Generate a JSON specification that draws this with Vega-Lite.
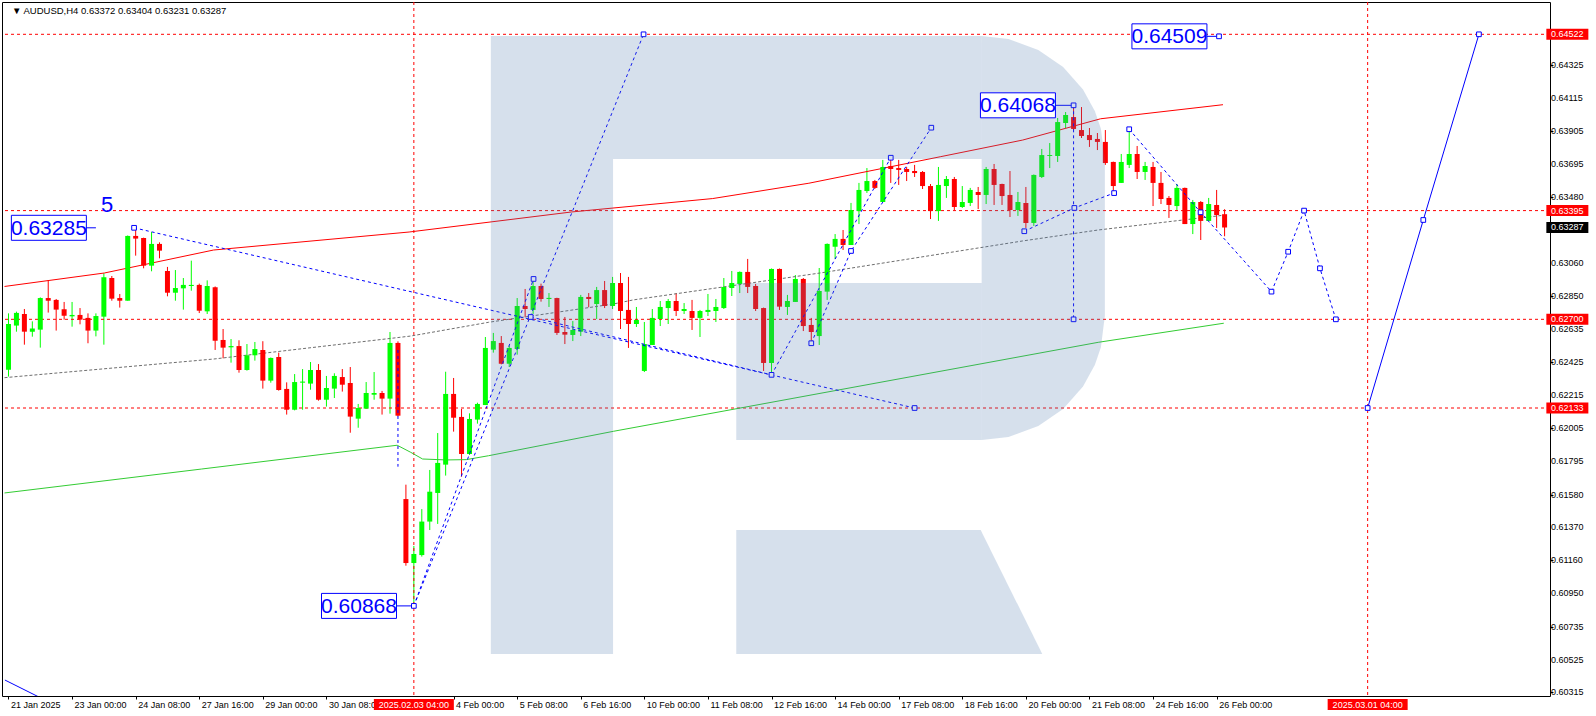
{
"$schema":"https://vega.github.io/schema/vega-lite/v6.json",
"width":1548,"height":694,"autosize":"none",
"padding":{"left":2,"top":2,"right":46,"bottom":20},
"background":"#ffffff",
"config":{"view":{"stroke":"#000000","strokeWidth":1},"axis":{"domain":false,"grid":false,"labelFont":"Liberation Sans","labelColor":"#000000","tickColor":"#000000"}},
"datasets":{
"candles":[
{"i":0,"o":0.62378,"h":0.62738,"l":0.62334,"c":0.6267},{"i":1,"o":0.6266,"h":0.62749,"l":0.62621,"c":0.62741},{"i":2,"o":0.62734,"h":0.62766,"l":0.62538,"c":0.62621},{"i":3,"o":0.62621,"h":0.62687,"l":0.62589,"c":0.62642},{"i":4,"o":0.62634,"h":0.6284,"l":0.62519,"c":0.62836},{"i":5,"o":0.62836,"h":0.62951,"l":0.62743,"c":0.62819},{"i":6,"o":0.62824,"h":0.6283,"l":0.62628,"c":0.62762},{"i":7,"o":0.62764,"h":0.62811,"l":0.62698,"c":0.62723},{"i":8,"o":0.62719,"h":0.62811,"l":0.62653,"c":0.62728},{"i":9,"o":0.62728,"h":0.62772,"l":0.62668,"c":0.62698},
{"i":10,"o":0.62709,"h":0.62738,"l":0.62547,"c":0.62628},{"i":11,"o":0.62628,"h":0.62738,"l":0.62591,"c":0.62721},{"i":12,"o":0.62717,"h":0.62994,"l":0.62538,"c":0.62969},{"i":13,"o":0.62964,"h":0.62977,"l":0.62819,"c":0.62832},{"i":14,"o":0.62836,"h":0.62862,"l":0.62775,"c":0.62819},{"i":15,"o":0.62819,"h":0.63236,"l":0.62819,"c":0.63233},{"i":16,"o":0.63233,"h":0.63288,"l":0.63107,"c":0.63216},{"i":17,"o":0.6322,"h":0.63222,"l":0.63026,"c":0.63043},{"i":18,"o":0.63043,"h":0.63258,"l":0.63007,"c":0.63182},{"i":19,"o":0.63182,"h":0.63192,"l":0.6309,"c":0.63139},
{"i":20,"o":0.63009,"h":0.63035,"l":0.62847,"c":0.6287},{"i":21,"o":0.6287,"h":0.63015,"l":0.62819,"c":0.629},{"i":22,"o":0.62898,"h":0.62964,"l":0.62762,"c":0.6292},{"i":23,"o":0.62913,"h":0.63075,"l":0.62883,"c":0.6292},{"i":24,"o":0.6292,"h":0.62928,"l":0.6274,"c":0.62755},{"i":25,"o":0.62751,"h":0.62949,"l":0.62734,"c":0.62913},{"i":26,"o":0.62905,"h":0.6291,"l":0.62504,"c":0.62563},{"i":27,"o":0.62568,"h":0.62638,"l":0.62451,"c":0.62519},{"i":28,"o":0.62521,"h":0.62574,"l":0.62423,"c":0.62529},{"i":29,"o":0.62529,"h":0.62566,"l":0.62359,"c":0.62376},
{"i":30,"o":0.62376,"h":0.62542,"l":0.62372,"c":0.6247},{"i":31,"o":0.6247,"h":0.62555,"l":0.62436,"c":0.6251},{"i":32,"o":0.62504,"h":0.6256,"l":0.62257,"c":0.62308},{"i":33,"o":0.62308,"h":0.62456,"l":0.62295,"c":0.62453},{"i":34,"o":0.62459,"h":0.62487,"l":0.62244,"c":0.62248},{"i":35,"o":0.62255,"h":0.62297,"l":0.62091,"c":0.62122},{"i":36,"o":0.62122,"h":0.6235,"l":0.62118,"c":0.62299},{"i":37,"o":0.62295,"h":0.62382,"l":0.62122,"c":0.62302},{"i":38,"o":0.62289,"h":0.62427,"l":0.6225,"c":0.62376},{"i":39,"o":0.62376,"h":0.62414,"l":0.6218,"c":0.62186},
{"i":40,"o":0.62186,"h":0.62338,"l":0.62142,"c":0.62261},{"i":41,"o":0.62257,"h":0.62355,"l":0.62197,"c":0.62338},{"i":42,"o":0.62331,"h":0.62382,"l":0.62238,"c":0.62282},{"i":43,"o":0.62293,"h":0.62395,"l":0.61975,"c":0.62078},{"i":44,"o":0.62065,"h":0.62159,"l":0.62007,"c":0.62133},{"i":45,"o":0.62129,"h":0.62299,"l":0.62129,"c":0.62229},{"i":46,"o":0.62218,"h":0.62363,"l":0.62186,"c":0.62229},{"i":47,"o":0.62229,"h":0.62242,"l":0.62091,"c":0.62193},{"i":48,"o":0.62193,"h":0.62619,"l":0.62097,"c":0.62549},{"i":49,"o":0.62549,"h":0.62559,"l":0.6208,"c":0.62084},
{"i":50,"o":0.61551,"h":0.61643,"l":0.61125,"c":0.61142},{"i":51,"o":0.61142,"h":0.61251,"l":0.60868,"c":0.612},{"i":52,"o":0.61193,"h":0.61487,"l":0.61183,"c":0.61407},{"i":53,"o":0.61407,"h":0.61737,"l":0.61353,"c":0.61598},{"i":54,"o":0.6159,"h":0.61973,"l":0.61392,"c":0.61782},{"i":55,"o":0.61771,"h":0.62365,"l":0.61701,"c":0.62223},{"i":56,"o":0.62223,"h":0.62325,"l":0.61982,"c":0.62071},{"i":57,"o":0.62076,"h":0.62127,"l":0.61694,"c":0.61839},{"i":58,"o":0.61839,"h":0.62099,"l":0.61833,"c":0.62063},{"i":59,"o":0.62059,"h":0.62167,"l":0.62033,"c":0.62159},
{"i":60,"o":0.62152,"h":0.62587,"l":0.62152,"c":0.62517},{"i":61,"o":0.62506,"h":0.62613,"l":0.62487,"c":0.62561},{"i":62,"o":0.62549,"h":0.62593,"l":0.62412,"c":0.62416},{"i":63,"o":0.62416,"h":0.62532,"l":0.62395,"c":0.62517},{"i":64,"o":0.6251,"h":0.62836,"l":0.62474,"c":0.62785},{"i":65,"o":0.62785,"h":0.62894,"l":0.62713,"c":0.62766},{"i":66,"o":0.6276,"h":0.62958,"l":0.62734,"c":0.62913},{"i":67,"o":0.62913,"h":0.62928,"l":0.62813,"c":0.6283},{"i":68,"o":0.6283,"h":0.62868,"l":0.62779,"c":0.62837},{"i":69,"o":0.62836,"h":0.62838,"l":0.626,"c":0.62613},
{"i":70,"o":0.62619,"h":0.62715,"l":0.62542,"c":0.62602},{"i":71,"o":0.626,"h":0.62689,"l":0.62561,"c":0.62632},{"i":72,"o":0.62621,"h":0.62856,"l":0.62593,"c":0.62843},{"i":73,"o":0.62843,"h":0.62868,"l":0.62777,"c":0.6283},{"i":74,"o":0.62798,"h":0.62907,"l":0.62702,"c":0.62887},{"i":75,"o":0.62887,"h":0.62945,"l":0.62772,"c":0.62785},{"i":76,"o":0.62785,"h":0.62971,"l":0.62766,"c":0.62932},{"i":77,"o":0.62932,"h":0.62996,"l":0.62638,"c":0.62753},{"i":78,"o":0.6276,"h":0.62971,"l":0.62517,"c":0.6267},{"i":79,"o":0.6267,"h":0.62779,"l":0.62651,"c":0.62696},
{"i":80,"o":0.6237,"h":0.62683,"l":0.62363,"c":0.62542},{"i":81,"o":0.62536,"h":0.62766,"l":0.62536,"c":0.62709},{"i":82,"o":0.62702,"h":0.62817,"l":0.62657,"c":0.62779},{"i":83,"o":0.62772,"h":0.6283,"l":0.6267,"c":0.62817},{"i":84,"o":0.62817,"h":0.62868,"l":0.62721,"c":0.62753},{"i":85,"o":0.62753,"h":0.62804,"l":0.62734,"c":0.62766},{"i":86,"o":0.62753,"h":0.62824,"l":0.62632,"c":0.62709},{"i":87,"o":0.62709,"h":0.6276,"l":0.62587,"c":0.62753},{"i":88,"o":0.62747,"h":0.62862,"l":0.62721,"c":0.6276},{"i":89,"o":0.62753,"h":0.6283,"l":0.62683,"c":0.62779},
{"i":90,"o":0.62772,"h":0.62964,"l":0.62766,"c":0.62907},{"i":91,"o":0.629,"h":0.63009,"l":0.62849,"c":0.62932},{"i":92,"o":0.62926,"h":0.63006,"l":0.62868,"c":0.63003},{"i":93,"o":0.63003,"h":0.63086,"l":0.62868,"c":0.62907},{"i":94,"o":0.62913,"h":0.62926,"l":0.62753,"c":0.62766},{"i":95,"o":0.62772,"h":0.62775,"l":0.6237,"c":0.62421},{"i":96,"o":0.62421,"h":0.63025,"l":0.62357,"c":0.63022},{"i":97,"o":0.63022,"h":0.63025,"l":0.6276,"c":0.62781},{"i":98,"o":0.62779,"h":0.62856,"l":0.62728,"c":0.62817},{"i":99,"o":0.62811,"h":0.62983,"l":0.62811,"c":0.62958},
{"i":100,"o":0.62958,"h":0.62964,"l":0.62625,"c":0.62657},{"i":101,"o":0.62664,"h":0.62709,"l":0.62555,"c":0.62619},{"i":102,"o":0.62593,"h":0.63028,"l":0.62536,"c":0.62881},{"i":103,"o":0.62877,"h":0.63185,"l":0.62824,"c":0.63182},{"i":104,"o":0.63164,"h":0.63245,"l":0.63086,"c":0.63214},{"i":105,"o":0.63214,"h":0.63271,"l":0.63143,"c":0.63175},{"i":106,"o":0.63175,"h":0.63444,"l":0.63175,"c":0.63399},{"i":107,"o":0.63392,"h":0.63572,"l":0.63309,"c":0.63527},{"i":108,"o":0.6352,"h":0.63667,"l":0.63508,"c":0.63584},{"i":109,"o":0.63584,"h":0.63591,"l":0.63533,"c":0.6354},
{"i":110,"o":0.6345,"h":0.63719,"l":0.6345,"c":0.63674},{"i":111,"o":0.6368,"h":0.63744,"l":0.63572,"c":0.63661},{"i":112,"o":0.63667,"h":0.63719,"l":0.63559,"c":0.63655},{"i":113,"o":0.63661,"h":0.63674,"l":0.63584,"c":0.63642},{"i":114,"o":0.63648,"h":0.63687,"l":0.6361,"c":0.63635},{"i":115,"o":0.63642,"h":0.63648,"l":0.63533,"c":0.63552},{"i":116,"o":0.63552,"h":0.63565,"l":0.63341,"c":0.63392},{"i":117,"o":0.63392,"h":0.63674,"l":0.63329,"c":0.63559},{"i":118,"o":0.63552,"h":0.63616,"l":0.63476,"c":0.63597},{"i":119,"o":0.63597,"h":0.6361,"l":0.63399,"c":0.63418},
{"i":120,"o":0.63418,"h":0.63552,"l":0.63412,"c":0.6345},{"i":121,"o":0.63444,"h":0.6354,"l":0.63424,"c":0.63527},{"i":122,"o":0.63514,"h":0.63546,"l":0.63405,"c":0.63495},{"i":123,"o":0.63495,"h":0.63674,"l":0.63437,"c":0.63661},{"i":124,"o":0.63661,"h":0.63693,"l":0.63431,"c":0.63559},{"i":125,"o":0.63565,"h":0.63567,"l":0.63431,"c":0.63488},{"i":126,"o":0.63495,"h":0.63648,"l":0.63354,"c":0.63399},{"i":127,"o":0.63399,"h":0.63514,"l":0.63361,"c":0.6345},{"i":128,"o":0.63444,"h":0.63546,"l":0.63284,"c":0.63316},{"i":129,"o":0.63316,"h":0.63626,"l":0.63297,"c":0.63623},
{"i":130,"o":0.6361,"h":0.63789,"l":0.63603,"c":0.6375},{"i":131,"o":0.63744,"h":0.63827,"l":0.63667,"c":0.6375},{"i":132,"o":0.63744,"h":0.63987,"l":0.63706,"c":0.63961},{"i":133,"o":0.63955,"h":0.64025,"l":0.63923,"c":0.64006},{"i":134,"o":0.63993,"h":0.64068,"l":0.6391,"c":0.63917},{"i":135,"o":0.6391,"h":0.64057,"l":0.63859,"c":0.63872},{"i":136,"o":0.63878,"h":0.63923,"l":0.63802,"c":0.63846},{"i":137,"o":0.63853,"h":0.63891,"l":0.63782,"c":0.63834},{"i":138,"o":0.63834,"h":0.6391,"l":0.63687,"c":0.63699},{"i":139,"o":0.63706,"h":0.63708,"l":0.6352,"c":0.63552},
{"i":140,"o":0.63572,"h":0.63757,"l":0.63572,"c":0.63706},{"i":141,"o":0.63687,"h":0.6391,"l":0.63667,"c":0.63757},{"i":142,"o":0.63757,"h":0.63808,"l":0.63597,"c":0.63642},{"i":143,"o":0.63642,"h":0.63706,"l":0.63591,"c":0.6368},{"i":144,"o":0.63674,"h":0.63706,"l":0.63424,"c":0.63572},{"i":145,"o":0.63572,"h":0.63642,"l":0.63437,"c":0.63469},{"i":146,"o":0.63476,"h":0.63488,"l":0.63348,"c":0.63431},{"i":147,"o":0.63424,"h":0.63565,"l":0.63399,"c":0.6354},{"i":148,"o":0.6354,"h":0.63542,"l":0.63309,"c":0.63309},{"i":149,"o":0.63309,"h":0.63463,"l":0.63245,"c":0.6345},
{"i":150,"o":0.6345,"h":0.63456,"l":0.63207,"c":0.63329},{"i":151,"o":0.63329,"h":0.63476,"l":0.63329,"c":0.63437},{"i":152,"o":0.63431,"h":0.63527,"l":0.63284,"c":0.63367},{"i":153,"o":0.63372,"h":0.63404,"l":0.63231,"c":0.63287}
],
"redma":[{"i":-0.5,"p":0.6291},{"i":12.06,"p":0.62996},{"i":25.8,"p":0.63143},{"i":50.4,"p":0.63258},{"i":70.8,"p":0.63386},{"i":88.6,"p":0.63472},{"i":100.7,"p":0.6357},{"i":117.3,"p":0.6374},{"i":127.6,"p":0.63846},{"i":137.4,"p":0.63982},{"i":152.8,"p":0.64072}],
"greenma":[{"i":-0.5,"p":0.6159},{"i":24.3,"p":0.61743},{"i":48.9,"p":0.61895},{"i":50.6,"p":0.6185},{"i":52.1,"p":0.61807},{"i":55.1,"p":0.61801},{"i":57.6,"p":0.61803},{"i":60.4,"p":0.61828},{"i":76.1,"p":0.61984},{"i":137.1,"p":0.62553},{"i":152.9,"p":0.62675}],
"grayma":[{"i":-0.5,"p":0.62327},{"i":25.8,"p":0.62446},{"i":50.6,"p":0.62593},{"i":60.4,"p":0.62681},{"i":76.1,"p":0.62798},{"i":78.6,"p":0.62824},{"i":102.1,"p":0.62996},{"i":127.6,"p":0.63201},{"i":137.1,"p":0.63271},{"i":152.8,"p":0.63365}],
"dash":[
{"g":1,"k":0,"i":15.8,"p":0.63285},{"g":1,"k":1,"i":114,"p":0.62133},
{"g":2,"k":0,"i":51,"p":0.60868},{"g":2,"k":1,"i":79.9,"p":0.64522},
{"g":3,"k":0,"i":51,"p":0.60868},{"g":3,"k":1,"i":66.06,"p":0.62958},
{"g":4,"k":0,"i":65.7,"p":0.62715},{"g":4,"k":1,"i":96,"p":0.62345},
{"g":5,"k":0,"i":96,"p":0.62345},{"g":5,"k":1,"i":111,"p":0.63733},
{"g":6,"k":0,"i":101,"p":0.62547},{"g":6,"k":1,"i":106,"p":0.63137},{"g":6,"k":2,"i":116.1,"p":0.63925},
{"g":7,"k":0,"i":134,"p":0.64068},{"g":7,"k":1,"i":134,"p":0.627},
{"g":8,"k":0,"i":127.8,"p":0.63263},{"g":8,"k":1,"i":134.1,"p":0.63412},{"g":8,"k":2,"i":139.1,"p":0.63507},
{"g":9,"k":0,"i":141,"p":0.63915},{"g":9,"k":1,"i":149.98,"p":0.63384},{"g":9,"k":2,"i":158.9,"p":0.62877},{"g":9,"k":3,"i":161,"p":0.63132},{"g":9,"k":4,"i":163,"p":0.63395},{"g":9,"k":5,"i":165,"p":0.63026},{"g":9,"k":6,"i":167,"p":0.627},
{"g":10,"k":0,"i":49,"p":0.62504},{"g":10,"k":1,"i":49,"p":0.61758}
],
"solid":[{"i":171,"p":0.62133},{"i":178,"p":0.63335},{"i":185,"p":0.64522}],
"edge":[{"i":-0.45,"p":0.60394},{"i":4.6,"p":0.60266}],
"markers":[{"i":15.8,"p":0.63285},{"i":114,"p":0.62133},{"i":79.9,"p":0.64522},{"i":66.06,"p":0.62958},{"i":65.7,"p":0.62715},{"i":96,"p":0.62345},{"i":111,"p":0.63733},{"i":101,"p":0.62547},{"i":106,"p":0.63137},{"i":116.1,"p":0.63925},{"i":134,"p":0.627},{"i":127.8,"p":0.63263},{"i":134.1,"p":0.63412},{"i":139.1,"p":0.63507},{"i":141,"p":0.63915},{"i":149.98,"p":0.63384},{"i":158.9,"p":0.62877},{"i":161,"p":0.63132},{"i":163,"p":0.63395},{"i":165,"p":0.63026},{"i":167,"p":0.627},{"i":171,"p":0.62133},{"i":178,"p":0.63335},{"i":185,"p":0.64522},{"i":51,"p":0.60868},{"i":134,"p":0.64068},{"i":152.3,"p":0.64509}],
"conn":[{"i":9.69,"i2":11,"p":0.63285},{"i":48.81,"i2":51,"p":0.60868},{"i":131.69,"i2":134,"p":0.64068},{"i":150.69,"i2":152.3,"p":0.64509}],
"wmrect":[{"i":60.6875,"i2":76.0625,"p":0.6451115,"p2":0.6056047},{"i":76.0625,"i2":122.4375,"p":0.6451115,"p2":0.6372485},{"i":91.5625,"i2":122.4375,"p":0.6293216,"p2":0.619285}],
"wmarea":[
{"g":"b","i":122.4375,"p":0.6451115,"p2":0.619285},{"g":"b","i":125.8125,"p":0.6449197,"p2":0.6194768},{"g":"b","i":129.5625,"p":0.6442229,"p2":0.6201736},{"g":"b","i":132.6875,"p":0.6431297,"p2":0.6212667},{"g":"b","i":135.1875,"p":0.6416914,"p2":0.6227051},{"g":"b","i":136.6875,"p":0.6403042,"p2":0.6240923},{"g":"b","i":137.4375,"p":0.6391791,"p2":0.6252174},{"g":"b","i":137.9375,"p":0.6371845,"p2":0.6272119},
{"g":"l","i":91.5625,"p":0.6135316,"p2":0.6056047},{"g":"l","i":122.3125,"p":0.6135316,"p2":0.6056047},{"g":"l","i":130.0625,"p":0.6056047,"p2":0.6056047}
],
"labels":[{"t":"0.63285","i":5.08,"p":0.63285},{"t":"0.60868","i":44.1,"p":0.60868},{"t":"0.64068","i":127.0,"p":0.64068},{"t":"0.64509","i":146.06,"p":0.64509}],
"ylab":[{"p":0.64325,"t":"0.64325"},{"p":0.64115,"t":"0.64115"},{"p":0.63905,"t":"0.63905"},{"p":0.63695,"t":"0.63695"},{"p":0.6348,"t":"0.63480"},{"p":0.6306,"t":"0.63060"},{"p":0.6285,"t":"0.62850"},{"p":0.62635,"t":"0.62635"},{"p":0.62425,"t":"0.62425"},{"p":0.62215,"t":"0.62215"},{"p":0.62005,"t":"0.62005"},{"p":0.61795,"t":"0.61795"},{"p":0.6158,"t":"0.61580"},{"p":0.6137,"t":"0.61370"},{"p":0.6116,"t":"0.61160"},{"p":0.6095,"t":"0.60950"},{"p":0.60735,"t":"0.60735"},{"p":0.60525,"t":"0.60525"},{"p":0.60315,"t":"0.60315"}],
"pricetags":[{"t":"0.64522","p":0.64522,"k":"r"},{"t":"0.63395","p":0.63395,"k":"r"},{"t":"0.63287","p":0.63287,"k":"b"},{"t":"0.62700","p":0.627,"k":"r"},{"t":"0.62133","p":0.62133,"k":"r"}],
"datetags":[{"t":"2025.02.03 04:00","i":51},{"t":"2025.03.01 04:00","i":171}]
},
"layer":[
{"data":{"name":"candles"},"mark":{"type":"rule","strokeWidth":1},
 "encoding":{
  "x":{"field":"i","type":"quantitative","scale":{"domain":[-0.1875,193.3125],"nice":false,"zero":false},
   "axis":{"orient":"bottom","title":null,"values":[0,8,16,24,32,40,56,64,72,80,88,96,104,112,120,128,136,144,152],
    "labelExpr":"['21 Jan 2025','23 Jan 00:00','24 Jan 08:00','27 Jan 16:00','29 Jan 00:00','30 Jan 08:00','31 Jan 16:00','4 Feb 00:00','5 Feb 08:00','6 Feb 16:00','10 Feb 00:00','11 Feb 08:00','12 Feb 16:00','14 Feb 00:00','17 Feb 08:00','18 Feb 16:00','20 Feb 00:00','21 Feb 08:00','24 Feb 16:00','26 Feb 00:00'][round(datum.value/8)]",
    "labelAlign":"left","labelBaseline":"top","labelOffset":2,"labelPadding":1,"tickSize":3,"labelFontSize":9,"labelOverlap":false,"labelFlush":false,"labelBound":false}},
  "y":{"field":"l","type":"quantitative","scale":{"domain":[0.60292,0.647285],"nice":false,"zero":false},
   "axis":{"orient":"right","title":null,"values":[0.64325,0.64115,0.63905,0.63695,0.6348,0.6306,0.6285,0.62635,0.62425,0.62215,0.62005,0.61795,0.6158,0.6137,0.6116,0.6095,0.60735,0.60525,0.60315],
    "labels":false,"tickSize":3}},
  "y2":{"field":"h"},
  "color":{"condition":{"test":"datum.c >= datum.o","value":"#00ff00"},"value":"#ff0000"}}},
{"data":{"values":[{"p":0.64522},{"p":0.63395},{"p":0.627},{"p":0.62133}]},"mark":{"type":"rule","color":"#ff0000","strokeDash":[3,3],"strokeWidth":1},
 "encoding":{"y":{"field":"p","type":"quantitative","scale":{"domain":[0.60292,0.647285],"nice":false,"zero":false}}}},
{"data":{"values":[{"i":51},{"i":171}]},"mark":{"type":"rule","color":"#ff0000","strokeDash":[3,3],"strokeWidth":1},
 "encoding":{"x":{"field":"i","type":"quantitative","scale":{"domain":[-0.1875,193.3125],"nice":false,"zero":false}}}},
{"data":{"name":"redma"},"mark":{"type":"line","color":"#ff0000","strokeWidth":1,"clip":true},
 "encoding":{"x":{"field":"i","type":"quantitative","scale":{"domain":[-0.1875,193.3125],"nice":false,"zero":false}},"y":{"field":"p","type":"quantitative","scale":{"domain":[0.60292,0.647285],"nice":false,"zero":false}}}},
{"data":{"name":"greenma"},"mark":{"type":"line","color":"#33cc33","strokeWidth":1,"clip":true},
 "encoding":{"x":{"field":"i","type":"quantitative","scale":{"domain":[-0.1875,193.3125],"nice":false,"zero":false}},"y":{"field":"p","type":"quantitative","scale":{"domain":[0.60292,0.647285],"nice":false,"zero":false}}}},
{"data":{"name":"grayma"},"mark":{"type":"line","color":"#6e6e6e","strokeWidth":1,"strokeDash":[3,2],"clip":true},
 "encoding":{"x":{"field":"i","type":"quantitative","scale":{"domain":[-0.1875,193.3125],"nice":false,"zero":false}},"y":{"field":"p","type":"quantitative","scale":{"domain":[0.60292,0.647285],"nice":false,"zero":false}}}},
{"data":{"name":"candles"},"mark":{"type":"bar","size":5},
 "encoding":{"x":{"field":"i","type":"quantitative","scale":{"domain":[-0.1875,193.3125],"nice":false,"zero":false}},
  "y":{"field":"o","type":"quantitative","scale":{"domain":[0.60292,0.647285],"nice":false,"zero":false}},"y2":{"field":"c"},
  "color":{"condition":{"test":"datum.c >= datum.o","value":"#00ff00"},"value":"#ff0000"}}},
{"data":{"name":"dash"},"mark":{"type":"line","color":"#0000ff","strokeWidth":1,"strokeDash":[3,3]},
 "encoding":{"x":{"field":"i","type":"quantitative","scale":{"domain":[-0.1875,193.3125],"nice":false,"zero":false}},"y":{"field":"p","type":"quantitative","scale":{"domain":[0.60292,0.647285],"nice":false,"zero":false}},"detail":{"field":"g"},"order":{"field":"k"}}},
{"data":{"name":"solid"},"mark":{"type":"line","color":"#0000ff","strokeWidth":1},
 "encoding":{"x":{"field":"i","type":"quantitative","scale":{"domain":[-0.1875,193.3125],"nice":false,"zero":false}},"y":{"field":"p","type":"quantitative","scale":{"domain":[0.60292,0.647285],"nice":false,"zero":false}}}},
{"data":{"name":"edge"},"mark":{"type":"line","color":"#0000ff","strokeWidth":1,"clip":true},
 "encoding":{"x":{"field":"i","type":"quantitative","scale":{"domain":[-0.1875,193.3125],"nice":false,"zero":false}},"y":{"field":"p","type":"quantitative","scale":{"domain":[0.60292,0.647285],"nice":false,"zero":false}}}},
{"data":{"name":"conn"},"mark":{"type":"rule","color":"#0000ff","strokeWidth":1},
 "encoding":{"x":{"field":"i","type":"quantitative","scale":{"domain":[-0.1875,193.3125],"nice":false,"zero":false}},"x2":{"field":"i2"},"y":{"field":"p","type":"quantitative","scale":{"domain":[0.60292,0.647285],"nice":false,"zero":false}}}},
{"data":{"name":"markers"},"mark":{"type":"point","shape":"square","size":22,"filled":true,"fill":"#ffffff","stroke":"#0000ff","strokeWidth":1,"opacity":1},
 "encoding":{"x":{"field":"i","type":"quantitative","scale":{"domain":[-0.1875,193.3125],"nice":false,"zero":false}},"y":{"field":"p","type":"quantitative","scale":{"domain":[0.60292,0.647285],"nice":false,"zero":false}}}},
{"data":{"name":"wmrect"},"mark":{"type":"rect","fill":"#517dae","fillOpacity":0.235,"strokeWidth":0},
 "encoding":{"x":{"field":"i","type":"quantitative","scale":{"domain":[-0.1875,193.3125],"nice":false,"zero":false}},"x2":{"field":"i2"},"y":{"field":"p","type":"quantitative","scale":{"domain":[0.60292,0.647285],"nice":false,"zero":false}},"y2":{"field":"p2"}}},
{"data":{"name":"wmarea"},"mark":{"type":"area","fill":"#517dae","fillOpacity":0.235,"strokeWidth":0,"orient":"vertical"},
 "encoding":{"x":{"field":"i","type":"quantitative","scale":{"domain":[-0.1875,193.3125],"nice":false,"zero":false}},"y":{"field":"p","type":"quantitative","scale":{"domain":[0.60292,0.647285],"nice":false,"zero":false}},"y2":{"field":"p2"},"detail":{"field":"g"}}},
{"data":{"name":"labels"},"mark":{"type":"point","shape":"M-1.5,-0.5H1.5V0.5H-1.5Z","size":2500,"filled":true,"fill":"#ffffff","stroke":"#0000ff","strokeWidth":1,"opacity":1},
 "encoding":{"x":{"field":"i","type":"quantitative","scale":{"domain":[-0.1875,193.3125],"nice":false,"zero":false}},"y":{"field":"p","type":"quantitative","scale":{"domain":[0.60292,0.647285],"nice":false,"zero":false}}}},
{"data":{"name":"labels"},"mark":{"type":"text","font":"Liberation Sans Narrow, Liberation Sans","fontSize":21,"color":"#0000ff","align":"center","baseline":"middle","dy":1},
 "encoding":{"x":{"field":"i","type":"quantitative","scale":{"domain":[-0.1875,193.3125],"nice":false,"zero":false}},"y":{"field":"p","type":"quantitative","scale":{"domain":[0.60292,0.647285],"nice":false,"zero":false}},"text":{"field":"t"}}},
{"data":{"values":[{"t":"5","i":12.4,"p":0.634333}]},"mark":{"type":"text","font":"Liberation Sans","fontSize":22,"color":"#0000ff","align":"center","baseline":"middle"},
 "encoding":{"x":{"field":"i","type":"quantitative","scale":{"domain":[-0.1875,193.3125],"nice":false,"zero":false}},"y":{"field":"p","type":"quantitative","scale":{"domain":[0.60292,0.647285],"nice":false,"zero":false}},"text":{"field":"t"}}},
{"data":{"name":"ylab"},"mark":{"type":"text","font":"Liberation Sans","fontSize":9,"color":"#000000","align":"left","baseline":"middle"},
 "encoding":{"x":{"datum":194.06,"type":"quantitative","scale":{"domain":[-0.1875,193.3125],"nice":false,"zero":false}},"y":{"field":"p","type":"quantitative","scale":{"domain":[0.60292,0.647285],"nice":false,"zero":false}},"text":{"field":"t"}}},
{"data":{"name":"pricetags"},"mark":{"type":"point","shape":"M-1.909,-0.5H1.909V0.5H-1.909Z","size":484,"filled":true,"opacity":1,"strokeWidth":0},
 "encoding":{"x":{"datum":196.125,"type":"quantitative","scale":{"domain":[-0.1875,193.3125],"nice":false,"zero":false}},"y":{"field":"p","type":"quantitative","scale":{"domain":[0.60292,0.647285],"nice":false,"zero":false}},
  "color":{"field":"k","type":"nominal","scale":{"domain":["r","b"],"range":["#ff0000","#000000"]},"legend":null}}},
{"data":{"name":"pricetags"},"mark":{"type":"text","font":"Liberation Sans","fontSize":9,"color":"#ffffff","align":"center","baseline":"middle"},
 "encoding":{"x":{"datum":196.125,"type":"quantitative","scale":{"domain":[-0.1875,193.3125],"nice":false,"zero":false}},"y":{"field":"p","type":"quantitative","scale":{"domain":[0.60292,0.647285],"nice":false,"zero":false}},"text":{"field":"t"}}},
{"data":{"name":"datetags"},"mark":{"type":"point","shape":"M-3.636,-0.5H3.636V0.5H-3.636Z","size":484,"filled":true,"fill":"#ff0000","opacity":1,"strokeWidth":0},
 "encoding":{"x":{"field":"i","type":"quantitative","scale":{"domain":[-0.1875,193.3125],"nice":false,"zero":false}},"y":{"datum":0.602376,"type":"quantitative","scale":{"domain":[0.60292,0.647285],"nice":false,"zero":false}}}},
{"data":{"name":"datetags"},"mark":{"type":"text","font":"Liberation Sans","fontSize":9,"color":"#ffffff","align":"center","baseline":"middle"},
 "encoding":{"x":{"field":"i","type":"quantitative","scale":{"domain":[-0.1875,193.3125],"nice":false,"zero":false}},"y":{"datum":0.602376,"type":"quantitative","scale":{"domain":[0.60292,0.647285],"nice":false,"zero":false}},"text":{"field":"t"}}},
{"data":{"values":[{"t":"▼  AUDUSD,H4  0.63372 0.63404 0.63231 0.63287","i":0.4375,"p":0.64671}]},"mark":{"type":"text","font":"Liberation Sans","fontSize":9.5,"color":"#000000","align":"left","baseline":"middle"},
 "encoding":{"x":{"field":"i","type":"quantitative","scale":{"domain":[-0.1875,193.3125],"nice":false,"zero":false}},"y":{"field":"p","type":"quantitative","scale":{"domain":[0.60292,0.647285],"nice":false,"zero":false}},"text":{"field":"t"}}}
]
}
